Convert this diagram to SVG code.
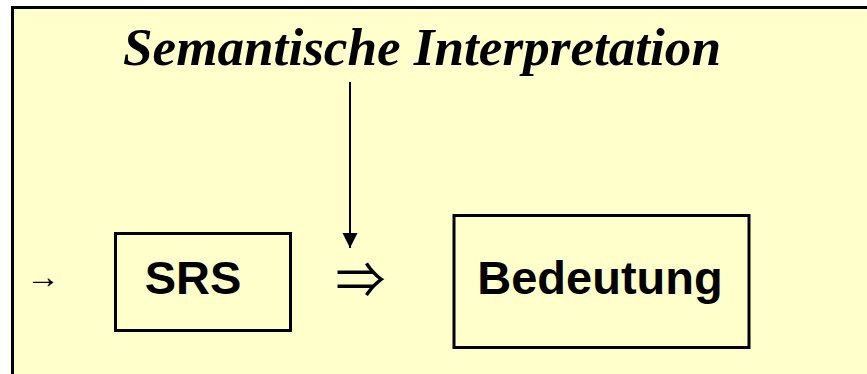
<svg xmlns="http://www.w3.org/2000/svg" width="867" height="374" viewBox="0 0 867 374">
<style>
.box{fill:none;stroke:#000;stroke-width:3}
.lbl{font-family:"Liberation Sans",Arial,sans-serif;font-weight:bold;font-size:47px;fill:#000;text-anchor:middle}
.title{font-family:"Liberation Serif","Times New Roman",serif;font-weight:bold;font-style:italic;font-size:53px;fill:#000;text-anchor:middle}
.sym{font-family:"Liberation Serif","DejaVu Serif",serif;fill:#000;text-anchor:middle}
.dbl{font-family:"Noto Sans CJK JP","DejaVu Sans",sans-serif;font-weight:400;fill:#000;text-anchor:middle}
</style>
<defs>
<marker id="ah" markerWidth="15" markerHeight="16" refX="15" refY="7.5" orient="auto" markerUnits="userSpaceOnUse">
<path d="M0,0 L15,7.5 L0,15 Z" fill="#000"/>
</marker>
</defs>
<rect x="0" y="0" width="867" height="374" fill="#fff"/>
<rect id="frame" x="12.5" y="7.5" width="870" height="380" fill="#FFFFCC" stroke="#000" stroke-width="3"/>
<g id="title"><text class="title" x="422" y="65" textLength="598" lengthAdjust="spacingAndGlyphs">Semantische Interpretation</text></g>
<g id="srs"><rect class="box" x="115.5" y="233.5" width="175" height="97"/><text class="lbl" x="193" y="294">SRS</text></g>
<g id="bedeutung"><rect class="box" x="454" y="215.5" width="295" height="132"/><text class="lbl" x="600" y="294">Bedeutung</text></g>
<g id="connectors">
<line x1="350" y1="82" x2="350" y2="248" stroke="#000" stroke-width="2" marker-end="url(#ah)"/>
<text class="dbl" x="360.5" y="298" font-size="50">⇒</text>
<text class="sym" x="43" y="288" font-size="34">→</text>
</g>
</svg>
